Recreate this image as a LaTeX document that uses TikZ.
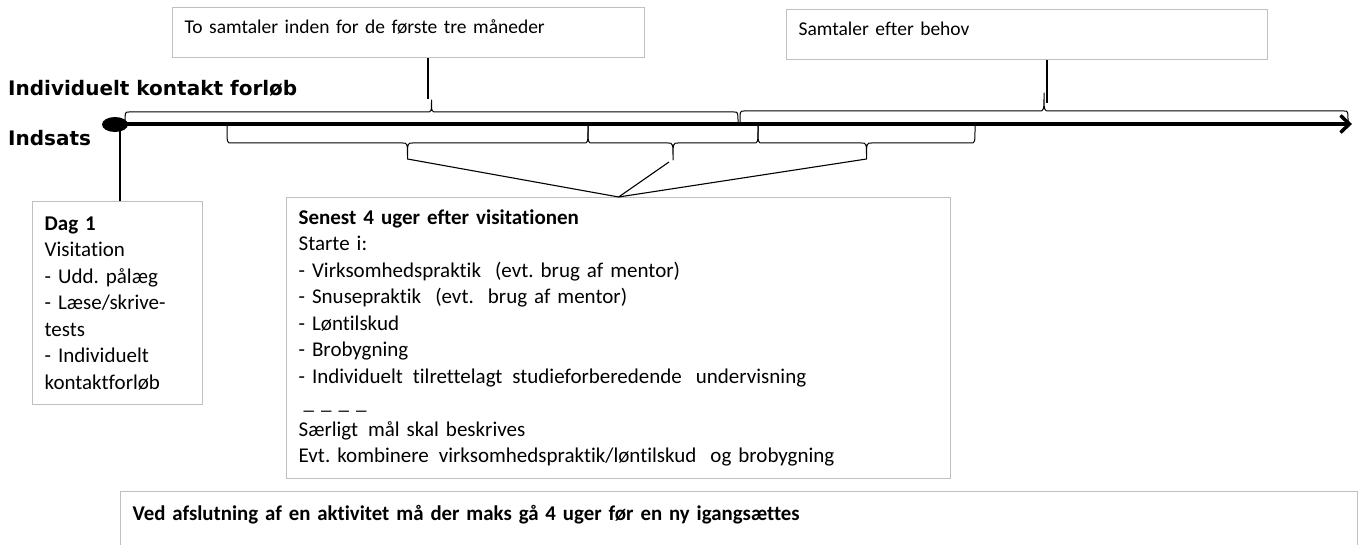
\documentclass[tikz,border=0pt]{standalone}
\usepackage{fontspec}
\usepackage{graphicx}
\setmainfont{Carlito}[Ligatures=NoCommon]
\newfontfamily\verd{DejaVu Sans}
\usetikzlibrary{arrows.meta,shapes.geometric}
\definecolor{boxgray}{RGB}{192,192,192}
\frenchspacing
\newcommand\xsp{\hspace{3pt}}
% x0, x1, y of ends, y of flat part, y of tip
\newcommand\mybrace[5]{%
  \draw[bracestyle] (#1,#3) .. controls (#1,#4) .. ({#1+4},#4)
    -- ({(#1+#2)/2-5},#4) .. controls ({(#1+#2)/2},#4) .. ({(#1+#2)/2},#5)
    .. controls ({(#1+#2)/2},#4) .. ({(#1+#2)/2+5},#4)
    -- ({#2-4},#4) .. controls (#2,#4) .. (#2,#3);}
\begin{document}
\begin{tikzpicture}[x=1pt,y=-1pt,
  box/.style={draw=boxgray, line width=1.3pt, rectangle, inner xsep=12pt, anchor=north west, align=left, font=\fontsize{21}{26.5}\selectfont},
  thinline/.style={line width=1.1pt},
  bracestyle/.style={line width=1pt, line join=round},
  heading/.style={font=\verd\bfseries\fontsize{20}{24}\selectfont, anchor=base west, inner sep=0pt}
]
\path[use as bounding box] (0,0) rectangle (1362,545);
\clip (0,0) rectangle (1362,545);

% top boxes
\node[box, minimum width=472pt, minimum height=50pt, text width=448pt, text height=14pt, text depth=12pt, font=\fontsize{19.5}{24}\selectfont] (b1) at (172,7) {To samtaler inden for de første tre måneder};
\node[box, minimum width=481pt, minimum height=50pt, text width=457pt, text height=14pt, text depth=12pt, font=\fontsize{19.5}{24}\selectfont] (b2) at (786,9) {Samtaler efter behov};

% headings
\node[heading] (ikf) at (8,96) {Individuelt kontakt forløb};
\node[heading] (ind) at (8,146) {Indsats};

% timeline
\coordinate (tend) at (1352,124);
\draw[line width=3.5pt, -{Straight Barb[length=9pt,width=17pt]}] (115,124) -- (tend);
\node[ellipse, fill=black, minimum width=26pt, minimum height=15pt, inner sep=0pt] (dot) at (115,124.5) {};

% upper braces
\mybrace{125}{738}{123}{112}{100}
\mybrace{740}{1348}{123}{111}{93}

% lower braces
\mybrace{227}{588}{126}{143}{159}
\mybrace{588}{758}{126}{143}{160}
\mybrace{758}{975}{126}{143}{159}

% callout lines from top boxes
\coordinate (t1) at (428,99);
\coordinate (t2) at (1047,103);
\draw[thinline] (t1 |- b1.south) -- (t1);
\draw[thinline] (t2 |- b2.south) -- (t2);

% Dag 1 box
\node[box, minimum width=170pt, minimum height=203pt, text width=146pt] (dag) at (32,201) {\textbf{Dag 1}\\Visitation\\- Udd. pålæg\\- Læse/skrive-\\tests\\- Individuelt\\kontaktforløb};
\coordinate (dl) at (120,131);
\draw[thinline] (dl) -- (dl |- dag.north);

% Senest box
\node[box, minimum width=664pt, minimum height=281pt, text width=640pt] (sen) at (286,197) {\textbf{Senest 4 uger efter visitationen}\\Starte i:\\- Virksomhedspraktik~ (evt. brug af mentor)\\- Snusepraktik~ (evt.\hspace{14pt}brug af mentor)\\- Løntilskud\\- Brobygning\\- Individuelt\xsp{} tilrettelagt\xsp{} studieforberedende~ undervisning\\\hspace*{5pt}\_ \_ \_ \_\\Særligt\xsp{} mål skal beskrives\\Evt. kombinere\xsp{} virksomhedspraktik/løntilskud~ og brobygning};

\coordinate (tA) at (407.5,159);
\coordinate (tB) at (669,162);
\coordinate (tC) at (866.5,159);
\draw[thinline] (tA) -- (sen.north);
\draw[thinline] (tB) -- (sen.north);
\draw[thinline] (tC) -- (sen.north);

% bottom box
\node[box, minimum width=1237pt, minimum height=80pt, text width=1213pt, text height=14pt, text depth=36pt] (ved) at (120,491) {\resizebox{667pt}{\height}{\bfseries Ved afslutning af en aktivitet må der maks gå 4 uger før en ny igangsættes}};
\end{tikzpicture}
\end{document}
